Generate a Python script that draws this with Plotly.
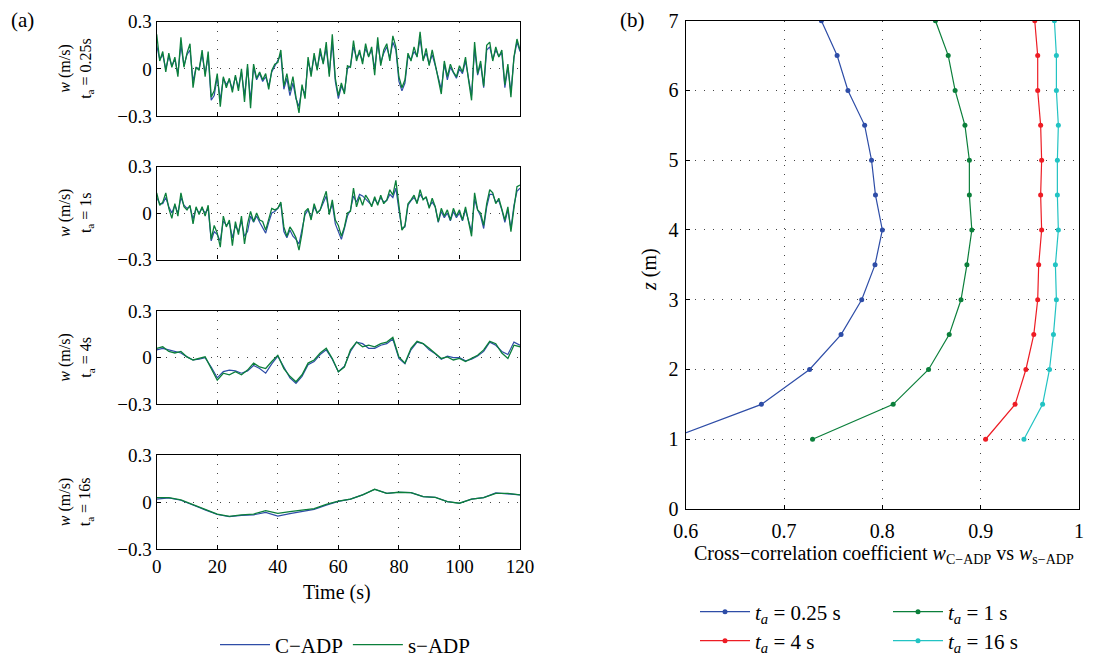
import plotly.graph_objects as go

# ---- panel (a): w time series, C-ADP (blue) vs s-ADP (green) ----
t1 = list(range(0, 121))
t3 = list(range(0, 121, 2))
t4 = list(range(0, 121, 4))

w_c_025 = [0.15, 0.06, 0.09, 0.0, 0.08, 0.02, 0.06, -0.03, 0.15, 0.02,
           0.09, 0.12, -0.08, 0.01, 0.0, 0.09, -0.03, 0.08, -0.20, -0.17,
           -0.05, -0.20, -0.06, -0.10, -0.07, -0.13, -0.05, -0.12, -0.02, -0.17,
           0.01, -0.20, 0.01, -0.07, -0.03, -0.08, -0.05, -0.11, -0.02, 0.02,
           0.05, 0.09, -0.13, -0.06, -0.17, -0.09, -0.19, -0.24, -0.12, -0.16,
           0.05, -0.03, 0.08, 0.0, 0.10, 0.04, 0.13, -0.03, 0.17, -0.08,
           -0.19, -0.11, -0.15, 0.0, 0.02, 0.14, 0.07, 0.10, 0.05, 0.13,
           0.08, 0.12, 0.0, 0.16, 0.04, 0.10, 0.14, 0.07, 0.17, 0.12,
           -0.08, -0.14, -0.09, 0.08, 0.06, 0.11, 0.08, 0.19, 0.06, 0.10,
           0.03, 0.09, 0.02, -0.05, -0.13, 0.03, -0.07, 0.01, -0.03, -0.06,
           0.0, -0.03, 0.05, -0.06, -0.17, 0.13, -0.04, 0.03, -0.12, 0.12,
           0.14, 0.06, 0.12, 0.08, 0.10, -0.12, 0.01, -0.15, 0.07, 0.17,
           0.11]
w_s_025 = [0.22, 0.05, 0.11, -0.02, 0.10, 0.01, 0.075, -0.05, 0.20, 0.01,
           0.10, 0.16, -0.12, 0.01, -0.01, 0.12, -0.05, 0.11, -0.18, -0.14,
           -0.03, -0.24, -0.05, -0.12, -0.06, -0.15, -0.04, -0.14, 0.0, -0.21,
           0.03, -0.25, 0.03, -0.06, -0.02, -0.07, -0.03, -0.13, -0.01, 0.03,
           0.04, 0.12, -0.11, -0.03, -0.14, -0.05, -0.18, -0.28, -0.10, -0.19,
           0.075, -0.05, 0.10, -0.01, 0.13, 0.03, 0.17, -0.05, 0.22, -0.06,
           -0.17, -0.09, -0.16, 0.02, 0.01, 0.18, 0.05, 0.12, 0.03, 0.16,
           0.075, 0.14, -0.04, 0.20, 0.02, 0.12, 0.16, 0.05, 0.21, 0.14,
           -0.05, -0.12, -0.07, 0.10, 0.05, 0.14, 0.075, 0.235, 0.05, 0.13,
           0.02, 0.12, 0.03, -0.07, -0.16, 0.05, -0.05, 0.03, -0.02, -0.05,
           0.02, -0.02, 0.075, -0.07, -0.20, 0.17, -0.03, 0.05, -0.11, 0.15,
           0.17, 0.05, 0.14, 0.075, 0.12, -0.10, 0.03, -0.18, 0.075, 0.19,
           0.12]

w_c_1 = [0.10, 0.06, 0.06, 0.10, 0.04, 0.0, 0.05, 0.0, 0.10, 0.05,
         0.03, 0.04, -0.04, 0.03, 0.0, 0.03, 0.0, 0.03, -0.18, -0.12,
         -0.14, -0.18, -0.05, -0.08, -0.06, -0.16, -0.08, -0.12, -0.05, -0.15,
         -0.12, -0.02, -0.06, -0.02, -0.06, -0.10, -0.13, -0.06, 0.0, 0.01,
         0.03, 0.06, -0.12, -0.16, -0.11, -0.15, -0.17, -0.20, -0.10, -0.01,
         0.02, -0.03, 0.04, 0.0, 0.02, 0.07, 0.11, 0.0, 0.06, -0.07,
         -0.12, -0.17, -0.10, -0.02, 0.02, 0.11, 0.07, 0.12, 0.11, 0.09,
         0.07, 0.05, 0.09, 0.06, 0.10, 0.07, 0.08, 0.12, 0.10, 0.16,
         0.02, -0.10, -0.09, 0.05, 0.08, 0.10, 0.07, 0.12, 0.09, 0.10,
         0.04, 0.07, 0.04, -0.06, 0.01, -0.03, 0.0, -0.05, 0.01, -0.03,
         0.0, -0.05, 0.02, -0.06, -0.12, 0.09, 0.02, -0.02, -0.10, 0.04,
         0.12, 0.12, 0.07, 0.08, 0.02, -0.06, 0.02, -0.10, 0.05, 0.14,
         0.16]
w_s_1 = [0.13, 0.05, 0.07, 0.13, 0.03, -0.035, 0.06, -0.02, 0.13, 0.04,
         0.02, 0.05, -0.07, 0.04, -0.01, 0.04, -0.02, 0.05, -0.17, -0.08,
         -0.13, -0.22, -0.02, -0.09, -0.045, -0.21, -0.055, -0.14, -0.02, -0.20,
         -0.07, 0.01, -0.055, 0.0, -0.045, -0.055, -0.11, -0.045, 0.03, 0.02,
         0.03, 0.07, -0.09, -0.15, -0.09, -0.12, -0.16, -0.24, -0.13, 0.01,
         0.03, -0.045, 0.06, 0.0, 0.02, 0.085, 0.14, -0.01, 0.085, -0.045,
         -0.08, -0.15, -0.09, 0.0, 0.01, 0.16, 0.04, 0.105, 0.05, 0.115,
         0.085, 0.04, 0.105, 0.05, 0.115, 0.06, 0.085, 0.15, 0.115, 0.21,
         0.04, -0.11, -0.08, 0.06, 0.085, 0.115, 0.06, 0.15, 0.085, 0.105,
         0.03, 0.095, 0.04, -0.055, 0.03, -0.02, 0.02, -0.045, 0.03, -0.02,
         0.02, -0.045, 0.04, -0.055, -0.15, 0.13, 0.02, 0.0, -0.08, 0.06,
         0.15, 0.13, 0.06, 0.095, 0.03, -0.045, 0.04, -0.12, 0.03, 0.17,
         0.18]

w_c_4 = [0.05, 0.06, 0.05, 0.04, 0.03, 0.005, -0.015, -0.01, 0.0, -0.06,
         -0.13, -0.09, -0.08, -0.085, -0.10, -0.085, -0.05, -0.07, -0.10, -0.04,
         0.01, -0.06, -0.13, -0.165, -0.12, -0.045, -0.025, 0.02, 0.05, -0.01,
         -0.09, -0.055, 0.04, 0.10, 0.09, 0.06, 0.06, 0.08, 0.09, 0.12,
         -0.005, -0.04, 0.05, 0.10, 0.09, 0.05, 0.025, -0.01, 0.01, 0.0,
         0.0, -0.02, -0.01, 0.01, 0.04, 0.10, 0.08, 0.04, 0.02, 0.10,
         0.08]
w_s_4 = [0.06, 0.07, 0.04, 0.03, 0.04, 0.005, -0.015, -0.005, 0.005, -0.07,
         -0.145, -0.10, -0.11, -0.09, -0.11, -0.08, -0.035, -0.06, -0.07, -0.025,
         0.015, -0.07, -0.12, -0.155, -0.11, -0.035, -0.015, 0.03, 0.06, -0.005,
         -0.09, -0.06, 0.05, 0.10, 0.07, 0.08, 0.07, 0.09, 0.10, 0.13,
         0.005, -0.035, 0.06, 0.105, 0.09, 0.06, 0.03, -0.005, 0.005, -0.015,
         -0.005, -0.025, -0.005, 0.015, 0.05, 0.105, 0.09, 0.03, -0.005, 0.08,
         0.07]

w_c_16 = [0.02, 0.028, 0.013, -0.02, -0.048, -0.078, -0.092, -0.083, -0.08, -0.065,
          -0.088, -0.072, -0.058, -0.045, -0.018, 0.006, 0.02, 0.047, 0.083, 0.057,
          0.064, 0.062, 0.036, 0.032, 0.004, -0.006, 0.02, 0.03, 0.06, 0.055,
          0.047]
w_s_16 = [0.03, 0.03, 0.015, -0.017, -0.045, -0.075, -0.09, -0.08, -0.075, -0.053,
          -0.07, -0.06, -0.05, -0.04, -0.013, 0.008, 0.02, 0.047, 0.083, 0.057,
          0.064, 0.062, 0.036, 0.032, 0.004, -0.006, 0.02, 0.03, 0.057, 0.057,
          0.047]

panel_labels = ["0.25s", "1s", "4s", "16s"]
time_ticks = [0, 20, 40, 60, 80, 100, 120]
w_ticks = [-0.3, 0, 0.3]
w_ticktext = ["\u22120.3", "0", "0.3"]

# ---- panel (b): cross-correlation profiles ----
z = [1, 1.5, 2, 2.5, 3, 3.5, 4, 4.5, 5, 5.5, 6, 6.5, 7]
cc_025 = [0.583, 0.677, 0.726, 0.758, 0.779, 0.7925, 0.800, 0.793, 0.789, 0.782, 0.765, 0.754, 0.738]
cc_1 = [0.729, 0.811, 0.847, 0.868, 0.880, 0.886, 0.891, 0.8885, 0.8885, 0.884, 0.874, 0.867, 0.854]
cc_4 = [0.905, 0.935, 0.946, 0.954, 0.958, 0.959, 0.962, 0.961, 0.962, 0.961, 0.958, 0.958, 0.955]
cc_16 = [0.944, 0.963, 0.970, 0.974, 0.977, 0.976, 0.979, 0.978, 0.978, 0.979, 0.977, 0.977, 0.975]
cc_ticks = [0.6, 0.7, 0.8, 0.9, 1.0]
cc_ticktext = ["0.6", "0.7", "0.8", "0.9", "1"]
z_ticks = [0, 1, 2, 3, 4, 5, 6, 7]

BLUE = "#2E4DA7"
GREEN = "#0B7F3B"
RED = "#ED1C24"
CYAN = "#22C3C3"
FONT = "Liberation Serif, Times New Roman, serif"

# the page puts the figure 8 px in from the top-left corner
OFF = 8
W, H = 1095 - OFF, 657 - OFF


def px(pix):
    return (pix - OFF) / W


def py(pix):
    return 1 - (pix - OFF) / H


def note(text, x, y, size, angle=0):
    fig.add_annotation(text=text, x=px(x), y=py(y), xref="paper", yref="paper",
                       xanchor="center", yanchor="middle", textangle=angle, showarrow=False,
                       font=dict(family=FONT, size=size, color="black"))


fig = go.Figure()

series = [(t1, w_c_025, w_s_025), (t1, w_c_1, w_s_1), (t3, w_c_4, w_s_4), (t4, w_c_16, w_s_16)]
# panel pixel rows (top, bottom)
rows = [(21.7, 116), (166.5, 259.5), (311, 404.3), (455.3, 549.3)]
grid = dict(showgrid=True, gridcolor="#444", griddash="1px,8px", gridwidth=1,
            showline=True, linecolor="black", linewidth=1.2, mirror=True,
            ticks="inside", ticklen=4, tickcolor="black", zeroline=False, automargin=False)

for i, (tt, wc, ws) in enumerate(series):
    n = "" if i == 0 else str(i + 1)
    fig.add_trace(go.Scatter(x=tt, y=wc, mode="lines", line=dict(color=BLUE, width=1.2),
                             name="C\u2212ADP", showlegend=(i == 0), legend="legend",
                             xaxis="x" + n, yaxis="y" + n))
    fig.add_trace(go.Scatter(x=tt, y=ws, mode="lines", line=dict(color=GREEN, width=1.3),
                             name="s\u2212ADP", showlegend=(i == 0), legend="legend",
                             xaxis="x" + n, yaxis="y" + n))
    top, bot = rows[i]
    fig.update_layout(**{
        "xaxis" + n: dict(domain=[px(156.7), px(520)], range=[0, 120], anchor="y" + n,
                          tickvals=time_ticks, showticklabels=(i == 3),
                          tickfont=dict(family=FONT, size=19, color="black"), **grid),
        "yaxis" + n: dict(domain=[py(bot), py(top)], range=[-0.3, 0.3], anchor="x" + n,
                          tickvals=w_ticks, ticktext=w_ticktext,
                          tickfont=dict(family=FONT, size=19, color="black"), **grid),
    })
    note("<i>w</i> (m/s)<br>t<sub>a</sub> = " + panel_labels[i], 76, (top + bot) / 2, 16, -90)

profiles = [(cc_025, BLUE, "0.25", "legend2"), (cc_1, GREEN, "1", "legend2"),
            (cc_4, RED, "4", "legend3"), (cc_16, CYAN, "16", "legend3")]
for cc, col, lab, leg in profiles:
    fig.add_trace(go.Scatter(x=cc, y=z, mode="lines+markers",
                             line=dict(color=col, width=1.2), marker=dict(color=col, size=5),
                             name="<i>t</i><sub><i>a</i></sub> = " + lab + " s",
                             legend=leg, xaxis="x5", yaxis="y5"))

fig.update_layout(
    xaxis5=dict(domain=[px(685.7), px(1079)], range=[0.6, 1.0], anchor="y5",
                tickvals=cc_ticks, ticktext=cc_ticktext, ticklabelstandoff=4,
                tickfont=dict(family=FONT, size=20, color="black"), **grid),
    yaxis5=dict(domain=[py(509), py(20.7)], range=[0, 7], anchor="x5",
                tickvals=z_ticks, ticklabelstandoff=2,
                tickfont=dict(family=FONT, size=20, color="black"), **grid),
)

note("(a)", 22, 20, 21)
note("(b)", 632, 20, 21)
note("Time (s)", 337, 592, 20)
note("<i>z</i> (m)", 650, 270, 20, -90)
note("Cross\u2212correlation coefficient <i>w</i><sub>C\u2212ADP</sub> vs <i>w</i><sub>s\u2212ADP</sub>",
     884, 554, 20)

leg_font = dict(family=FONT, size=21, color="black")
fig.update_layout(
    width=W, height=H,
    margin=dict(l=0, r=0, t=0, b=0, autoexpand=False),
    paper_bgcolor="white", plot_bgcolor="white",
    font=dict(family=FONT, color="black"),
    legend=dict(orientation="h", x=px(345), y=py(645), xanchor="center", yanchor="middle",
                font=leg_font, bgcolor="rgba(0,0,0,0)", itemwidth=50),
    legend2=dict(orientation="h", x=px(695), y=py(612), xanchor="left", yanchor="middle",
                 font=leg_font, bgcolor="rgba(0,0,0,0)", entrywidth=128, itemwidth=50),
    legend3=dict(orientation="h", x=px(695), y=py(641), xanchor="left", yanchor="middle",
                 font=leg_font, bgcolor="rgba(0,0,0,0)", entrywidth=128, itemwidth=50),
)

fig.write_html("out.html")
